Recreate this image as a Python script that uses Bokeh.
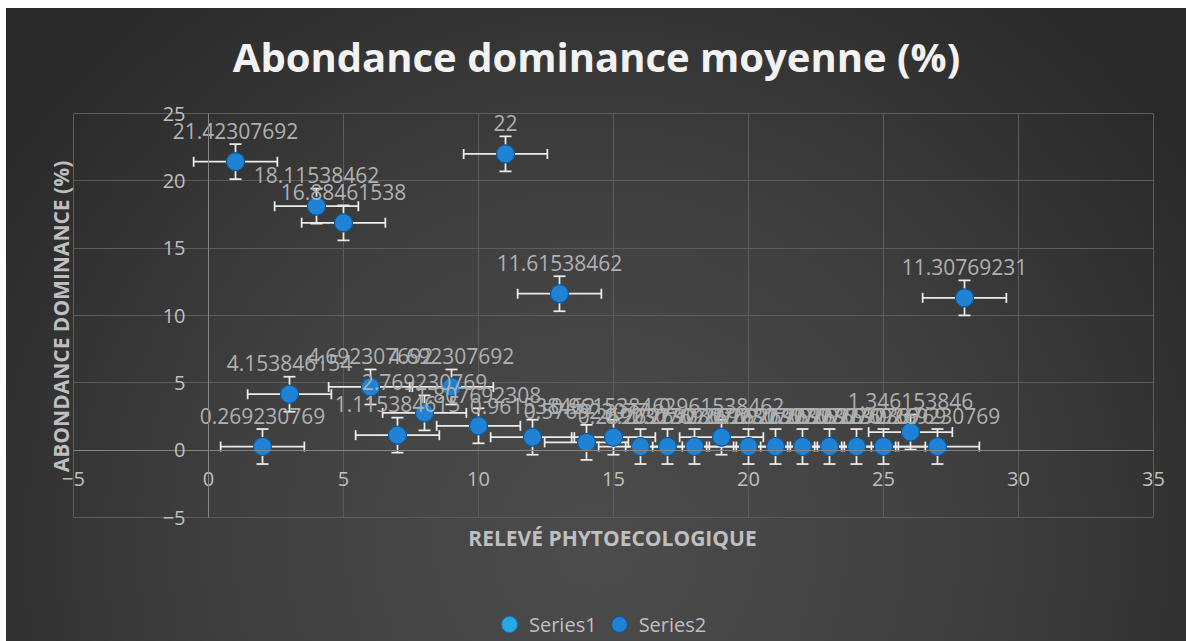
import math
from bokeh.plotting import figure
from bokeh.models import (ColumnDataSource, Range1d, FixedTicker, Whisker, TeeHead,
                          Label, Legend, LegendItem, Grid)
from bokeh.core.properties import value
from bokeh.embed import file_html
from bokeh.resources import INLINE

# ---- data ----
releve = [1, 2, 3, 4, 5, 6, 7, 8, 9, 10, 11, 12, 13, 14,
          15, 16, 17, 18, 19, 20, 21, 22, 23, 24, 25, 26, 27, 28]
abondance = [21.42307692, 0.269230769, 4.153846154, 18.11538462, 16.88461538,
             4.692307692, 1.115384615, 2.769230769, 4.692307692, 1.807692308,
             22, 0.961538462, 11.61538462, 0.576923077, 0.961538462,
             0.269230769, 0.269230769, 0.269230769, 0.961538462, 0.269230769,
             0.269230769, 0.269230769, 0.269230769, 0.269230769, 0.269230769,
             1.346153846, 0.269230769, 11.30769231]
x_err = 1.55   # standard error bar, x
y_err = 1.3    # standard error bar, y
x_ticks = [-5, 0, 5, 10, 15, 20, 25, 30, 35]
y_ticks = [-5, 0, 5, 10, 15, 20, 25]
series_names = ["Series1", "Series2"]
chart_title = "Abondance dominance moyenne (%)"
x_title = "RELEVÉ PHYTOECOLOGIQUE"
y_title = "ABONDANCE DOMINANCE (%)"

labels = ["{:.10g}".format(v) for v in abondance]
src = ColumnDataSource(dict(
    x=releve, y=abondance, lab=labels,
    xl=[v - x_err for v in releve], xu=[v + x_err for v in releve],
    yl=[v - y_err for v in abondance], yu=[v + y_err for v in abondance],
))

# ---- layout (pixels) ----
W, H = 1186, 641
PL, PR, PT, PB = 73, 1153, 113, 517   # plot-area edges on the canvas
xs = (PR - PL) / (x_ticks[-1] - x_ticks[0])
ys = (PB - PT) / (y_ticks[-1] - y_ticks[0])
x_range = Range1d(x_ticks[0] - PL / xs, x_ticks[-1] + (W - PR) / xs)
y_range = Range1d(y_ticks[0] - (H - PB) / ys, y_ticks[-1] + PT / ys)

FONT = "Open Sans"
LBL = "#bfbfbf"

p = figure(width=W, height=H, output_backend="svg", toolbar_location=None,
           x_range=x_range, y_range=y_range, title=None,
           min_border=0, min_border_left=0, min_border_right=0,
           min_border_top=0, min_border_bottom=0)
p.border_fill_color = None
p.background_fill_color = None
p.outline_line_color = None
p.styles = {"background": "radial-gradient(ellipse 60% 110% at 50% 85%, #4c4c4c 0%, #404040 50%, #2a2a2a 100%) 6px 8px / 1180px 633px no-repeat, #ffffff"}

# axes pinned at zero
for ax, ticks in ((p.xaxis, x_ticks), (p.yaxis, y_ticks)):
    ax.fixed_location = 0
    ax.bounds = (ticks[0], ticks[-1])
    ax.ticker = FixedTicker(ticks=ticks)
    ax.axis_line_color = "#858585"
    ax.axis_line_width = 1
    ax.major_tick_line_color = None
    ax.minor_tick_line_color = None
    ax.major_tick_in = 0
    ax.major_tick_out = 0
    ax.minor_tick_in = 0
    ax.minor_tick_out = 0
    ax.major_label_text_font = FONT
    ax.major_label_text_font_size = "20px"
    ax.major_label_text_color = LBL
p.xaxis.major_label_standoff = 22
p.yaxis.major_label_standoff = 23

p.xgrid.ticker = FixedTicker(ticks=x_ticks)
p.ygrid.ticker = FixedTicker(ticks=y_ticks)
p.grid.grid_line_color = "#5c5c5c"
p.grid.grid_line_width = 1
p.xgrid.bounds = (x_ticks[0], x_ticks[-1])
p.ygrid.bounds = (y_ticks[0], y_ticks[-1])
if "cross_bounds" in Grid.properties():
    p.xgrid.cross_bounds = (y_ticks[0], y_ticks[-1])
    p.ygrid.cross_bounds = (x_ticks[0], x_ticks[-1])
else:
    p.grid.visible = False
    p.segment(x0=x_ticks, x1=x_ticks, y0=[y_ticks[0]] * len(x_ticks), y1=[y_ticks[-1]] * len(x_ticks),
              line_color="#5c5c5c", line_width=1, level="underlay")
    p.segment(x0=[x_ticks[0]] * len(y_ticks), x1=[x_ticks[-1]] * len(y_ticks), y0=y_ticks, y1=y_ticks,
              line_color="#5c5c5c", line_width=1, level="underlay")

# titles (screen units: x from left, y from bottom)
p.add_layout(Label(x=596, y=H - 56, x_units="screen", y_units="screen", text=chart_title,
                   text_align="center", text_baseline="alphabetic", text_font=FONT,
                   text_font_size="40px", text_font_style="bold", text_color="#f2f2f2"))
p.add_layout(Label(x=612, y=H - 537, x_units="screen", y_units="screen", text=x_title,
                   text_align="center", text_baseline="alphabetic", text_font=FONT,
                   text_font_size="21px", text_font_style="bold", text_color=LBL))
p.add_layout(Label(x=60, y=H - 316, x_units="screen", y_units="screen", text=y_title,
                   angle=math.pi / 2, text_align="center", text_baseline="alphabetic",
                   text_font=FONT, text_font_size="21px", text_font_style="bold", text_color=LBL))

# error bars
EB = "#ececec"
wy = Whisker(source=src, base="x", lower="yl", upper="yu", dimension="height",
             line_color=EB, line_width=1.75, level="underlay",
             upper_head=TeeHead(size=12, line_color=EB, line_width=1.75),
             lower_head=TeeHead(size=12, line_color=EB, line_width=1.75))
wx = Whisker(source=src, base="y", lower="xl", upper="xu", dimension="width",
             line_color=EB, line_width=1.75, level="underlay",
             upper_head=TeeHead(size=10, line_color=EB, line_width=1.75),
             lower_head=TeeHead(size=10, line_color=EB, line_width=1.75))
p.add_layout(wy)
p.add_layout(wx)

# points (Series1 lies underneath Series2 at the same positions)
r1 = p.scatter("x", "y", source=src, size=18, fill_color="#29a6e6", line_color="#1479b8", line_width=1)
r2 = p.scatter("x", "y", source=src, size=18, fill_color="#1f82d4", line_color="#0d528e", line_width=1)

# data labels
p.text("x", "y", text="lab", source=src, text_align="center", text_baseline="alphabetic",
       y_offset=-31, text_font=value(FONT), text_font_size="21px", text_color="#b0b0b0")

legend = Legend(items=[LegendItem(label=series_names[0], renderers=[r1]),
                       LegendItem(label=series_names[1], renderers=[r2])],
                location=(489, -3), orientation="horizontal",
                background_fill_alpha=0, border_line_alpha=0,
                label_text_color=LBL, label_text_font=FONT, label_text_font_size="20px",
                glyph_width=40, glyph_height=40, label_standoff=0, spacing=2,
                padding=0, margin=0)
p.add_layout(legend, "center")

open("out.html", "w").write(file_html(p, INLINE))
